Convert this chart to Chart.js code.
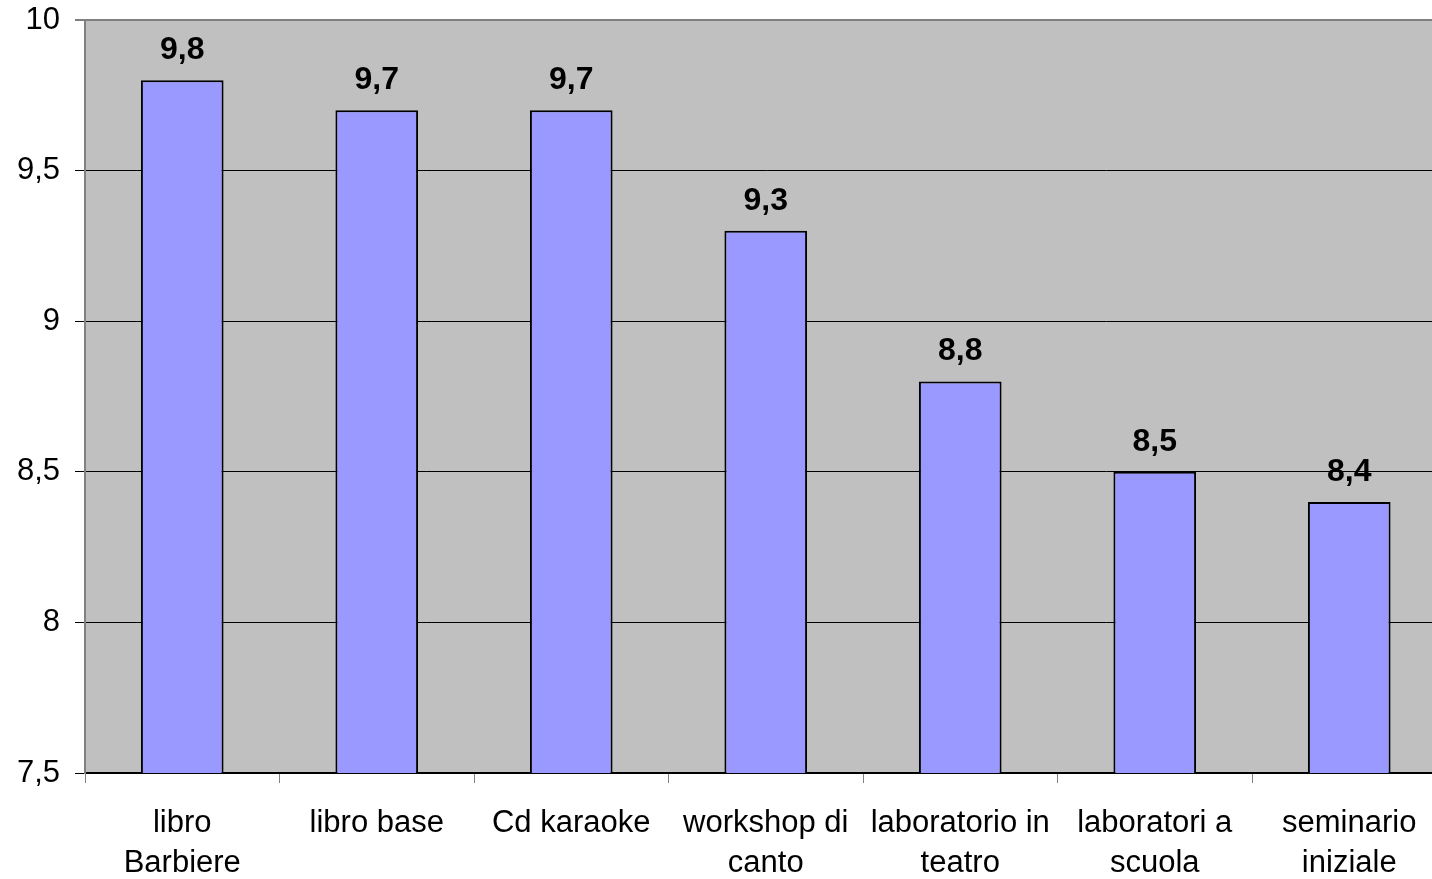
<!DOCTYPE html>
<html>
<head>
<meta charset="utf-8">
<script src="https://cdn.jsdelivr.net/npm/chart.js@4/dist/chart.umd.min.js"></script>
<style>
  html, body { margin: 0; padding: 0; background: #fff; overflow: hidden; }
  #wrap { width: 1432px; height: 879px; overflow: hidden; }
</style>
</head>
<body>
<div id="wrap"><canvas id="chart" width="1450" height="879"></canvas></div>
<script>
// dati del grafico
const categorie = [
    ['libro', 'Barbiere'],
    'libro base',
    'Cd karaoke',
    ['workshop di', 'canto'],
    ['laboratorio in', 'teatro'],
    ['laboratori a', 'scuola'],
    ['seminario', 'iniziale']
];
const valori = [9.8, 9.7, 9.7, 9.3, 8.8, 8.5, 8.4];
const yMin = 7.5;
const yMax = 10;
const yPasso = 0.5;

const FONT = 'Liberation Sans, Arial, sans-serif';
const virgola = v => String(v).replace('.', ',');

// sfondo grigio dell'area del grafico
const sfondo = {
    id: 'sfondo',
    beforeDraw(chart) {
        const { ctx, chartArea: a } = chart;
        ctx.save();
        ctx.fillStyle = '#C0C0C0';
        ctx.fillRect(a.left, a.top, a.right - a.left, a.bottom - a.top);
        ctx.restore();
    }
};

// etichette dei valori sopra le barre
const etichette = {
    id: 'etichette',
    afterDatasetsDraw(chart) {
        const { ctx } = chart;
        const meta = chart.getDatasetMeta(0);
        ctx.save();
        ctx.font = 'bold 32px ' + FONT;
        ctx.fillStyle = '#000';
        ctx.textAlign = 'center';
        ctx.textBaseline = 'alphabetic';
        meta.data.forEach((bar, i) => {
            ctx.fillText(virgola(valori[i]), bar.x, bar.y - 21);
        });
        ctx.restore();
    }
};

const ctx = document.getElementById('chart').getContext('2d');
new Chart(ctx, {
    type: 'bar',
    data: {
        labels: categorie,
        datasets: [{
            data: valori,
            backgroundColor: '#9999FF',
            borderColor: '#000000',
            borderWidth: 2,
            borderSkipped: false,
            categoryPercentage: 1,
            barPercentage: 0.425
        }]
    },
    options: {
        responsive: false,
        animation: false,
        layout: { padding: { top: 20, right: 3.5, left: 0, bottom: 0 } },
        plugins: {
            legend: { display: false },
            tooltip: { enabled: false }
        },
        scales: {
            x: {
                offset: true,
                grid: {
                    offset: true,
                    drawOnChartArea: false,
                    drawTicks: true,
                    tickLength: 10,
                    tickColor: '#808080',
                    tickWidth: 1
                },
                border: { display: true, color: '#000000', width: 2 },
                ticks: {
                    color: '#000',
                    font: { family: FONT, size: 31, lineHeight: 1.28 },
                    padding: 21,
                    maxRotation: 0,
                    minRotation: 0,
                    autoSkip: false
                },
                afterFit(scale) {
                    scale.height = 106;
                    scale.paddingLeft = 0;
                    scale.paddingRight = 0;
                }
            },
            y: {
                min: yMin,
                max: yMax,
                grid: {
                    color: c => c.tick.value === yMax ? '#808080' : '#000000',
                    lineWidth: c => c.tick.value === yMax ? 2 : 1,
                    tickLength: 10,
                    tickColor: '#000000',
                    tickWidth: 1
                },
                border: { display: true, color: '#808080', width: 2 },
                ticks: {
                    stepSize: yPasso,
                    color: '#000',
                    font: { family: FONT, size: 31 },
                    padding: 15,
                    callback: v => virgola(v)
                },
                afterFit(scale) {
                    scale.width = 85;
                    scale.paddingTop = 0;
                    scale.paddingBottom = 0;
                }
            }
        }
    },
    plugins: [sfondo, etichette]
});
</script>
</body>
</html>
